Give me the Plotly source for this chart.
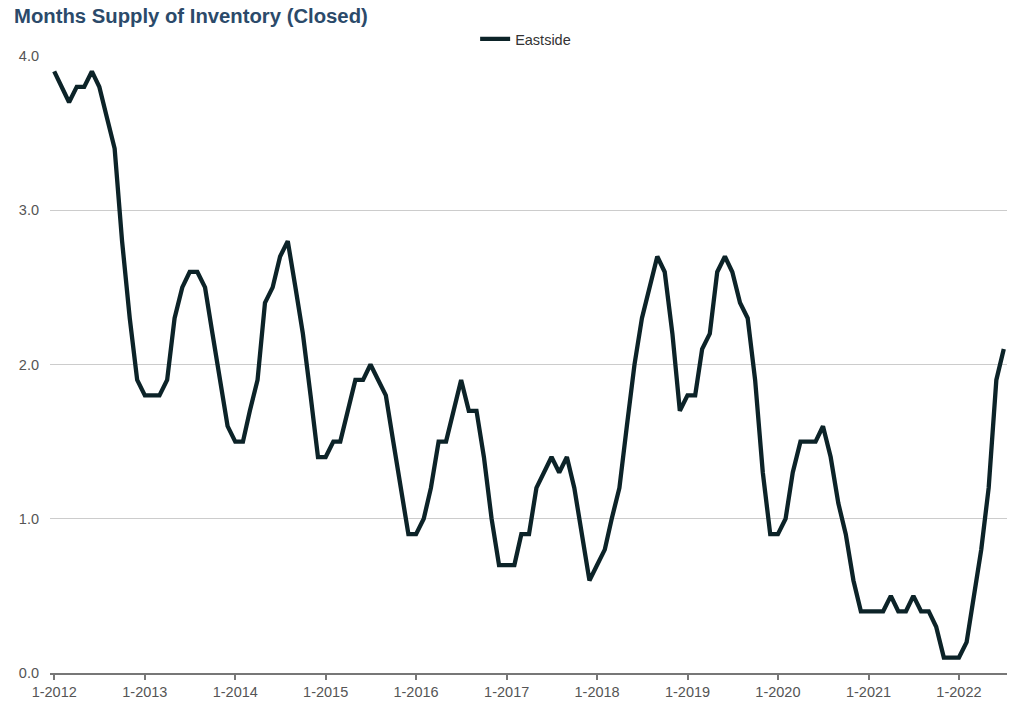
import plotly.graph_objects as go
import pandas as pd

series_name = "Eastside"
start_month = "2012-01-01"
values = [
    # 2012
    3.9, 3.8, 3.7, 3.8, 3.8, 3.9, 3.8, 3.6, 3.4, 2.8, 2.3, 1.9,
    # 2013
    1.8, 1.8, 1.8, 1.9, 2.3, 2.5, 2.6, 2.6, 2.5, 2.2, 1.9, 1.6,
    # 2014
    1.5, 1.5, 1.7, 1.9, 2.4, 2.5, 2.7, 2.8, 2.5, 2.2, 1.8, 1.4,
    # 2015
    1.4, 1.5, 1.5, 1.7, 1.9, 1.9, 2.0, 1.9, 1.8, 1.5, 1.2, 0.9,
    # 2016
    0.9, 1.0, 1.2, 1.5, 1.5, 1.7, 1.9, 1.7, 1.7, 1.4, 1.0, 0.7,
    # 2017
    0.7, 0.7, 0.9, 0.9, 1.2, 1.3, 1.4, 1.3, 1.4, 1.2, 0.9, 0.6,
    # 2018
    0.7, 0.8, 1.0, 1.2, 1.6, 2.0, 2.3, 2.5, 2.7, 2.6, 2.2, 1.7,
    # 2019
    1.8, 1.8, 2.1, 2.2, 2.6, 2.7, 2.6, 2.4, 2.3, 1.9, 1.3, 0.9,
    # 2020
    0.9, 1.0, 1.3, 1.5, 1.5, 1.5, 1.6, 1.4, 1.1, 0.9, 0.6, 0.4,
    # 2021
    0.4, 0.4, 0.4, 0.5, 0.4, 0.4, 0.5, 0.4, 0.4, 0.3, 0.1, 0.1,
    # 2022
    0.1, 0.2, 0.5, 0.8, 1.2, 1.9, 2.1,
]
months = pd.date_range(start_month, periods=len(values), freq="MS")
tick_years = list(range(2012, 2023))
tick_vals = [pd.Timestamp(f"{y}-01-01") for y in tick_years]
tick_text = [f"1-{y}" for y in tick_years]
y_ticks = [0, 1, 2, 3, 4]
y_text = ["0.0", "1.0", "2.0", "3.0", "4.0"]

fig = go.Figure()
fig.add_trace(go.Scatter(
    x=months, y=values, mode="lines", name=series_name,
    line=dict(color="#0c2328", width=4.3),
))

fig.update_layout(
    width=1024, height=703,
    margin=dict(l=50, r=17, t=56, b=30, autoexpand=False),
    paper_bgcolor="white", plot_bgcolor="white",
    font=dict(family="Liberation Sans, Arial, sans-serif", size=14, color="#555555"),
    title=dict(text="<b>Months Supply of Inventory (Closed)</b>", x=14 / 1024, xanchor="left",
               xref="container", yref="container",
               y=1 - 16 / 703, yanchor="middle",
               font=dict(size=20.3, color="#2b4a6a")),
    showlegend=True,
    legend=dict(orientation="h", x=0.497, xanchor="center",
                yref="container", y=1 - 39 / 703, yanchor="middle",
                font=dict(size=14.5, color="#333333"), itemwidth=30),
    xaxis=dict(
        range=[pd.Timestamp("2011-12-15"), pd.Timestamp("2022-07-14")],
        tickvals=tick_vals, ticktext=tick_text,
        showgrid=False, showline=True, linecolor="#777777", linewidth=2,
        ticks="outside", ticklen=5, tickwidth=2, tickcolor="#777777",
        tickfont=dict(size=14.5, color="#555555"),
        zeroline=False, automargin=False,
    ),
    yaxis=dict(
        range=[0, 4], tickvals=y_ticks, ticktext=y_text,
        showgrid=True, gridcolor="#cccccc", gridwidth=1,
        zeroline=False, showline=False, ticks="",
        ticklabelstandoff=10, automargin=False,
        tickfont=dict(size=14.5, color="#555555"),
    ),
)

fig.write_html("out.html", config={"displayModeBar": False},
               post_script="document.body.style.margin='0';")
